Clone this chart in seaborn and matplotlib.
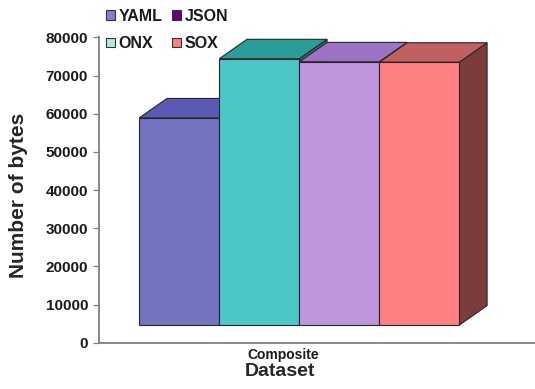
import matplotlib
matplotlib.use("Agg")
import matplotlib.pyplot as plt
from matplotlib.patches import Polygon, Patch
from matplotlib.transforms import ScaledTranslation
import pandas as pd
import seaborn as sns

# Data
datasets = ["Composite"]
formats = ["YAML", "ONX", "JSON", "SOX"]
num_bytes = [54300, 69800, 69000, 68900]
y_ticks = [0, 10000, 20000, 30000, 40000, 50000, 60000, 70000, 80000]

# Face colours of the 3-D columns
front_colors = ["#7373C2", "#4CC7C7", "#BE96DC", "#FF8080"]
top_colors = ["#5A5AB4", "#2A9D98", "#9B72C4", "#C06060"]
side_colors = ["#45458C", "#1F7A76", "#6E4F8F", "#7C3C3C"]
legend_colors = ["#8080D4", "#B4E8E8", "#660080", "#FF8080"]

sns.set_theme(style="white")
plt.rcParams["font.family"] = ["Liberation Sans", "DejaVu Sans"]
plt.rcParams["font.weight"] = "bold"
plt.rcParams["text.color"] = "#1a1a1a"
plt.rcParams["xtick.color"] = "#1a1a1a"
plt.rcParams["ytick.color"] = "#1a1a1a"

fig = plt.figure(figsize=(5.35, 3.89), dpi=100)
ax = fig.add_axes([0.18505, 0.11902, 0.81495, 0.78458])

df = pd.DataFrame({
    "Dataset": datasets * len(formats),
    "Format": formats,
    "Bytes": num_bytes,
})
sns.barplot(data=df, x="Dataset", y="Bytes", hue="Format", hue_order=formats,
            palette=front_colors, saturation=1, width=0.8, errorbar=None,
            edgecolor="#262626", linewidth=0.8, legend=False, ax=ax)

ax.set_xlim(-0.4608, 0.629)
ax.set_ylim(0, 80000)
ax.set_yticks(y_ticks)
ax.set_yticklabels([str(v) for v in y_ticks])

# oblique 3-D look: columns sit back from the floor edge and have depth
shift_in = (0.16, 0.177)
depth_in = (0.277, 0.194)
shift = ScaledTranslation(shift_in[0], shift_in[1], fig.dpi_scale_trans)

bars = sorted(ax.patches, key=lambda p: p.get_x())
for i, bar in enumerate(bars):
    x0, y0, w, h = bar.get_x(), bar.get_y(), bar.get_width(), bar.get_height()
    (xl, yb), (xr, yt) = ax.transData.transform([(x0, y0), (x0 + w, y0 + h)]) / fig.dpi
    xl += shift_in[0]; xr += shift_in[0]
    yb += shift_in[1]; yt += shift_in[1]
    dx, dy = depth_in
    top = [(xl, yt), (xr, yt), (xr + dx, yt + dy), (xl + dx, yt + dy)]
    side = [(xr, yb), (xr + dx, yb + dy), (xr + dx, yt + dy), (xr, yt)]
    z = 3 + 3 * i
    ax.add_patch(Polygon(side, closed=True, facecolor=side_colors[i], edgecolor="#262626",
                         linewidth=0.8, transform=fig.dpi_scale_trans, clip_on=False, zorder=z))
    ax.add_patch(Polygon(top, closed=True, facecolor=top_colors[i], edgecolor="#262626",
                         linewidth=0.8, transform=fig.dpi_scale_trans, clip_on=False, zorder=z + 1))
    bar.set_transform(ax.transData + shift)
    bar.set_clip_on(False)
    bar.set_zorder(z + 2)

sns.despine(ax=ax)
for side_name in ("left", "bottom"):
    ax.spines[side_name].set_color("#808080")
    ax.spines[side_name].set_linewidth(1.3)

ax.tick_params(axis="y", left=True, length=4.3, width=0.9, color="#808080",
               pad=3.6, labelsize=11)
ax.tick_params(axis="x", bottom=False, length=0, pad=4, labelsize=10)

ax.set_xlabel("Dataset", fontsize=14, fontweight="bold")
ax.set_ylabel("Number of bytes", fontsize=15, fontweight="bold")
ax.xaxis.set_label_coords(0.415, -0.068)
ax.yaxis.set_label_coords(-0.162, 0.484)

handles = [Patch(facecolor=c, edgecolor="#333333", linewidth=0.8) for c in legend_colors]
fig.legend(handles, formats, ncol=2, loc="upper left", bbox_to_anchor=(0.198, 0.978),
           frameon=False, fontsize=11.5, handlelength=0.55, handleheight=0.55,
           handletextpad=0.25, columnspacing=0.6, labelspacing=0.8,
           borderpad=0, borderaxespad=0)

fig.savefig("out.png", dpi=100)
